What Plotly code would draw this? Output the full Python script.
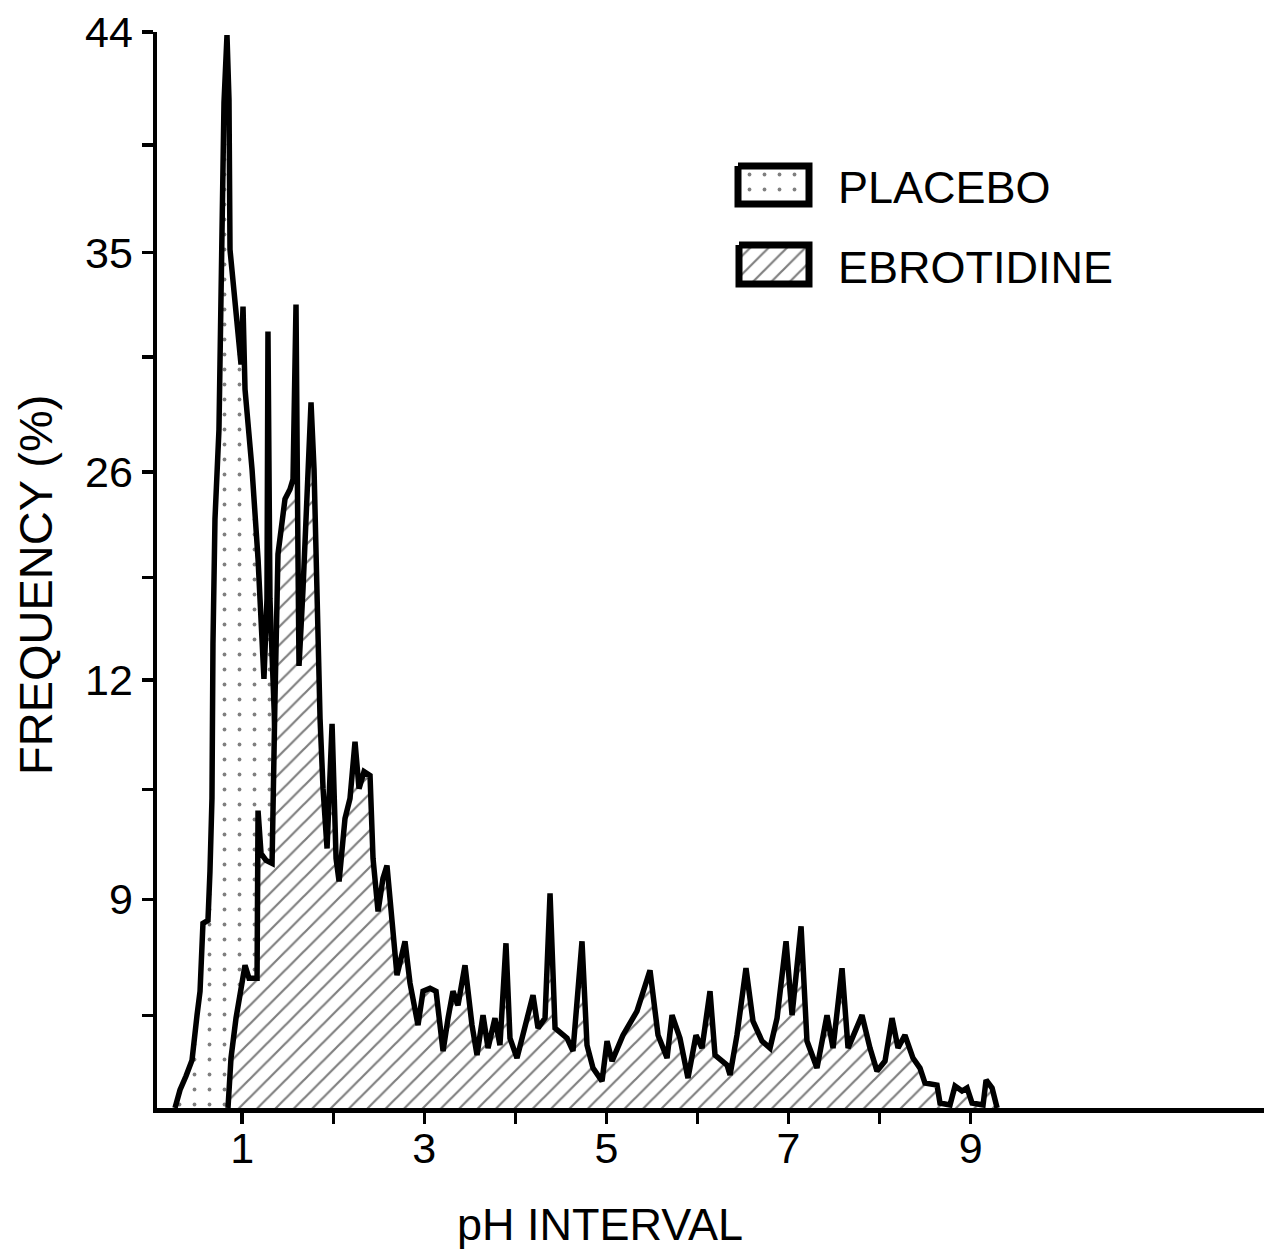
import plotly.graph_objects as go

# ---------------- data (x: pH, y: frequency scale units of the drawn axis) ----------------
placebo_x = [0.262, 0.317, 0.383, 0.449, 0.504, 0.537, 0.569, 0.624, 0.646, 0.668, 0.679, 0.701,
             0.745, 0.767, 0.778, 0.800, 0.833, 0.855, 0.866, 0.954, 0.987, 1.009, 1.031, 1.108,
             1.174, 1.239, 1.272, 1.283, 1.305, 1.371, 1.437, 1.525]
placebo_y = [0, 0.167, 0.297, 0.445, 0.863, 1.085, 1.716, 1.744, 2.199, 2.876, 4.314, 5.473,
             6.308, 7.514, 8.006, 9.341, 9.972, 9.369, 7.978, 7.143, 6.911, 7.449, 6.679, 5.937,
             5.102, 3.989, 4.731, 7.217, 4.731, 3.247, 1.948, 0]

ebro_x = [0.844, 0.877, 0.932, 0.987, 1.031, 1.075, 1.163, 1.174, 1.207, 1.262, 1.328, 1.360,
          1.393, 1.470, 1.525, 1.558, 1.591, 1.613, 1.624, 1.668, 1.723, 1.756, 1.789, 1.822,
          1.855, 1.888, 1.932, 1.987, 2.031, 2.064, 2.129, 2.184, 2.239, 2.283, 2.338, 2.404,
          2.437, 2.492, 2.546, 2.590, 2.656, 2.700, 2.744, 2.788, 2.843, 2.898, 2.931, 2.986,
          3.063, 3.129, 3.206, 3.261, 3.315, 3.370, 3.447, 3.524, 3.579, 3.645, 3.700, 3.776,
          3.831, 3.897, 3.941, 4.018, 4.128, 4.194, 4.249, 4.326, 4.381, 4.436, 4.568, 4.633,
          4.732, 4.787, 4.853, 4.952, 5.007, 5.062, 5.182, 5.336, 5.479, 5.567, 5.666, 5.721,
          5.808, 5.896, 5.984, 6.050, 6.138, 6.193, 6.325, 6.358, 6.434, 6.533, 6.610, 6.709,
          6.797, 6.874, 6.973, 7.039, 7.138, 7.203, 7.313, 7.423, 7.489, 7.588, 7.654, 7.807,
          7.895, 7.972, 8.060, 8.137, 8.203, 8.279, 8.367, 8.444, 8.499, 8.631, 8.664, 8.774,
          8.829, 8.906, 8.961, 9.016, 9.137, 9.170, 9.236, 9.291]
ebro_y = [0, 0.464, 0.835, 1.113, 1.327, 1.206, 1.206, 2.764, 2.365, 2.301, 2.273, 3.803,
          5.148, 5.659, 5.751, 5.844, 7.468, 5.102, 4.109, 4.824, 5.937, 6.558, 5.937, 4.731,
          3.618, 2.968, 2.412, 3.571, 2.319, 2.106, 2.690, 2.876, 3.404, 2.968, 3.126, 3.089,
          2.319, 1.827, 2.134, 2.254, 1.642, 1.234, 1.391, 1.549, 1.160, 0.928, 0.770, 1.085,
          1.113, 1.085, 0.529, 0.835, 1.085, 0.955, 1.327, 0.770, 0.492, 0.863, 0.557, 0.835,
          0.584, 1.531, 0.649, 0.464, 0.863, 1.048, 0.742, 0.835, 1.994, 0.742, 0.649, 0.529,
          1.549, 0.584, 0.371, 0.250, 0.622, 0.436, 0.677, 0.900, 1.280, 0.677, 0.464, 0.863,
          0.649, 0.278, 0.677, 0.557, 1.085, 0.492, 0.399, 0.306, 0.677, 1.299, 0.807, 0.622,
          0.557, 0.835, 1.549, 0.863, 1.688, 0.622, 0.371, 0.863, 0.557, 1.299, 0.557, 0.863,
          0.557, 0.343, 0.436, 0.835, 0.557, 0.677, 0.464, 0.371, 0.232, 0.213, 0.046, 0.028,
          0.204, 0.158, 0.186, 0.046, 0.028, 0.260, 0.186, 0]

series_names = ["PLACEBO", "EBROTIDINE"]

x_tickvals = [1, 2, 3, 4, 5, 6, 7, 8, 9]
x_ticktext = ["1", "", "3", "", "5", "", "7", "", "9"]
y_tickvals = [0.86, 1.94, 2.96, 3.98, 4.93, 5.91, 6.98, 7.95, 8.95, 10.0]
y_ticktext = ["", "9", "", "12", "", "26", "", "35", "", "44"]

# ---------------- styling ----------------
FONT = "Liberation Sans, Arial, sans-serif"
W, H = 1264, 1251
ML, MR, MT, MB = 157, 0, 32, 143
LW = 5.5

dots = dict(shape=".", bgcolor="white", fgcolor="black", size=15, solidity=0.05)
hatch = dict(shape="/", bgcolor="white", fgcolor="black", size=13, solidity=0.17)

fig = go.Figure()

fig.add_trace(go.Scatter(x=placebo_x, y=placebo_y, mode="lines", fill="toself",
                         fillpattern=dots, line=dict(color="black", width=LW),
                         name=series_names[0], showlegend=False, hoverinfo="skip"))
fig.add_trace(go.Scatter(x=ebro_x, y=ebro_y, mode="lines", fill="toself",
                         fillpattern=hatch, line=dict(color="black", width=LW),
                         name=series_names[1], showlegend=False, hoverinfo="skip"))

# ---------------- custom legend (drawn on a pixel-unit overlay axis) ----------------
leg_boxes = [((738, 809), (166, 204)), ((739, 809), (245, 284))]
leg_patterns = [dots, hatch]
leg_text_y = [187, 267]
for (xs, ys), pat, name, ty in zip(leg_boxes, leg_patterns, series_names, leg_text_y):
    fig.add_trace(go.Scatter(x=[xs[0], xs[1], xs[1], xs[0], xs[0]],
                             y=[ys[0], ys[0], ys[1], ys[1], ys[0]],
                             xaxis="x2", yaxis="y2", mode="lines", fill="toself",
                             fillpattern=pat, line=dict(color="black", width=7),
                             showlegend=False, hoverinfo="skip"))
    fig.add_annotation(x=836, y=ty, xref="x2", yref="y2", text=name, showarrow=False,
                       xanchor="left", yanchor="middle",
                       font=dict(family=FONT, size=45, color="black"))

plot_w = W - ML - MR
plot_h = H - MT - MB

fig.update_layout(
    width=W, height=H,
    margin=dict(l=ML, r=MR, t=MT, b=MB, pad=0),
    paper_bgcolor="white", plot_bgcolor="white",
    showlegend=False,
    xaxis=dict(range=[(ML - 151.15) / 91.05, (W - MR - 151.15) / 91.05],
               tickmode="array", tickvals=x_tickvals, ticktext=x_ticktext,
               ticks="outside", ticklen=11, tickwidth=3.5, tickcolor="black",
               ticklabelstandoff=-12,
               showline=True, linewidth=4.5, linecolor="black",
               showgrid=False, zeroline=False, automargin=False,
               tickfont=dict(family=FONT, size=43, color="black")),
    yaxis=dict(range=[0, 10],
               tickmode="array", tickvals=y_tickvals, ticktext=y_ticktext,
               ticks="outside", ticklen=11, tickwidth=3.5, tickcolor="black",
               showline=True, linewidth=4.5, linecolor="black",
               showgrid=False, zeroline=False, automargin=False,
               tickfont=dict(family=FONT, size=43, color="black")),
    xaxis2=dict(range=[ML, W - MR], overlaying="x", visible=False, fixedrange=True),
    yaxis2=dict(range=[H - MB, MT], overlaying="y", visible=False, fixedrange=True),
)

fig.add_annotation(x=(35 - ML) / plot_w, y=(H - MB - 585) / plot_h, xref="paper", yref="paper",
                   text="FREQUENCY (%)", textangle=-90, showarrow=False,
                   xanchor="center", yanchor="middle",
                   font=dict(family=FONT, size=47, color="black"))
fig.add_annotation(x=(600 - ML) / plot_w, y=(H - MB - 1224) / plot_h, xref="paper", yref="paper",
                   text="pH INTERVAL", showarrow=False, xanchor="center", yanchor="middle",
                   font=dict(family=FONT, size=45, color="black"))

fig.write_html(
    "out.html",
    config={"displayModeBar": False, "staticPlot": True},
    post_script="document.body.style.margin='0';document.body.style.overflow='hidden';",
)
